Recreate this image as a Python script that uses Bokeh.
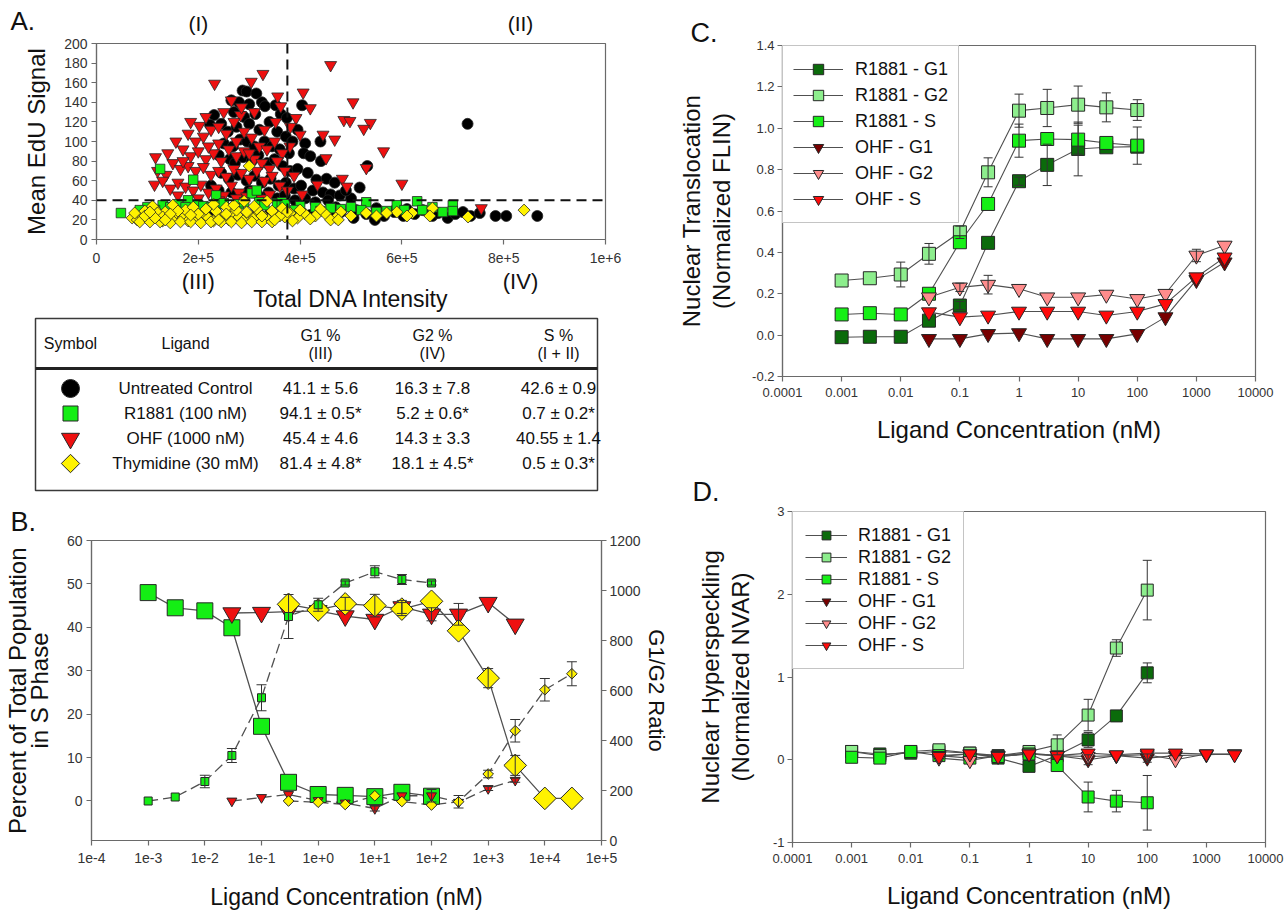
import math
from bokeh.plotting import figure
from bokeh.models import (ColumnDataSource, Range1d, LinearAxis, FixedTicker, Title,
                          CustomJSTickFormatter, PrintfTickFormatter, Span,
                          Whisker, TeeHead, Legend, LegendItem)
from bokeh.layouts import row, column
from bokeh.embed import file_html
from bokeh.resources import INLINE
from bokeh.core.properties import value

FONT = "Liberation Sans"

# ---------------- Panel A data (Total DNA intensity in thousands, mean EdU) ----------------
a_ctrl_pts = [(287,152),(295,151),(314,149),(265,142),(280,140),(300,138),(325,140),(331,136),(352,137),
    (362,128),(374,124),(404,137),(312,128),(290,125),(270,130),(231,127),(223,117),(245,118),(258,110),
    (275,115),(300,118),(320,112),(340,120),(355,110),(372,105),(385,100),(395,112),(410,98),(440,100),
    (250,98),(268,95),(282,102),(296,100),(310,95),(330,100),(345,95),(360,92),(378,88),(407,88),(420,85),
    (441,80),(240,86),(262,82),(272,78),(288,84),(305,80),(318,86),(335,78),(350,82),(365,75),(380,70),
    (395,72),(415,68),(432,61),(452,62),(468,58),(245,68),(260,62),(278,66),(295,60),(310,65),(325,58),
    (342,62),(358,55),(372,58),(388,52),(402,55),(425,50),(445,48),(460,46),(478,45),(500,42),(517,53),
    (532,75),(225,55),(240,50),(265,48),(285,45),(300,50),(320,44),(338,48),(355,42),(370,45),(390,40),
    (410,42),(430,38),(455,40),(490,50),(729,118),
    (100,24),(140,26),(180,25),(220,24),(260,27),(300,24),(340,26),(380,24),(420,25),(460,24),(480,28),
    (505,22),(530,26),(547,20),(565,24),(585,28),(603,24),(625,26),(641,30),(660,24),(671,27),(690,22),
    (705,26),(720,28),(735,24),(753,27),(784,24),(805,24),(866,24),(510,30),(550,32),(470,33),(590,32),(610,31)]
a_ohf_pts = [(460,178),(327,169),(304,161),(232,159),(406,150),(504,140),(356,146),(420,134),(362,136),
    (538,119),(525,113),(486,122),(498,121),(392,124),(381,115),(352,120),(265,142),(283,127),(202,116),
    (156,100),(116,84),(114,56),(137,66),(400,107),(445,107),(468,102),(451,83),(564,90),(483,62),(530,73),
    (492,54),(600,57),(434,56),(404,46),(756,32),
    (180,108),(195,100),(210,105),(225,112),(240,98),(255,108),(270,120),(290,110),(305,104),(320,95),
    (335,92),(350,100),(365,88),(380,95),(170,92),(185,85),(200,90),(215,82),(230,88),(245,80),(260,92),
    (275,85),(290,90),(310,82),(325,78),(340,72),(355,80),(370,70),(388,65),(150,78),(165,72),(180,75),
    (195,70),(210,74),(225,66),(240,70),(255,64),(270,72),(285,68),(300,62),(315,70),(330,60),(345,65),
    (360,55),(375,50),(130,60),(145,52),(160,58),(175,54),(190,50),(205,56),(220,48),(235,52),(250,45),
    (265,55),(280,48),(295,44),(310,50),(325,42),(340,46),(160,45),(200,42),(240,40),(275,42),(120,70),
    (140,88),(185,120),(215,125),(250,130),(275,100),(300,88),(330,112),(310,130),(285,135),(240,115),
    (170,80),(220,95)]
a_r1881_pts = [(48,27),(125,72),(190,61),(235,45),(305,47),(315,50),(180,40),(355,37),(364,38),(630,39),
    (530,38),(500,33),(550,28),(700,35),(700,29),(660,33),(590,35),(605,30),(320,38),(280,36),(240,36),
    (200,35),(160,36),(130,35),(100,33),(85,30),(115,30),(145,33),(175,33),(210,34),(250,37),(290,38),
    (330,35),(370,36),(400,34),(430,33),(460,32),(480,31),(520,30),(570,29),(640,30),(680,28),(440,29),
    (390,30),(270,32),(225,33)]
a_thy_pts = [(300,75),(660,32),(840,30),(730,23),(655,24),(620,27),(610,24),(590,28),(570,27),(550,24),
    (530,27),(500,24),(480,28),(470,22),(450,26),(430,24),(410,26),(395,22),(380,27),(370,23),(335,39),
    (290,39),(260,31),(70,22),(80,20),(90,24),(100,21),(110,25),(120,22),(130,19),(140,24),(150,21),
    (160,26),(170,22),(180,19),(190,24),(200,21),(210,27),(220,22),(230,19),(240,25),(250,22),(260,20),
    (270,26),(280,23),(290,20),(300,25),(310,22),(320,27),(330,23),(340,21),(350,26),(360,24),(75,27),
    (95,29),(115,31),(135,28),(155,32),(175,30),(195,28),(215,31),(235,29),(255,33),(275,30),(295,28),
    (315,31),(345,29),(365,32),(85,18),(105,18),(125,18),(145,17),(165,18),(185,18),(205,17),(225,18),
    (245,18),(265,18),(285,17),(305,18),(325,18),(345,18),(110,34),(150,35),(190,33),(230,36),(270,35),
    (310,34),(240,20),(200,26),(160,29),(120,27),(350,20),(385,19),(420,21),(460,20),(400,30),(440,31),
    (475,20),(130,23),(145,26),(185,25),(255,26),(325,24),(375,28),(95,24),(115,22),(105,28),(135,20)]
a_xticks = [0, 200000, 400000, 600000, 800000, 1000000]
a_xtick_labels = ["0", "2e+5", "4e+5", "6e+5", "8e+5", "1e+6"]
a_yticks = [0, 20, 40, 60, 80, 100, 120, 140, 160, 180, 200]
a_edu_threshold = 40
a_dna_threshold = 375000
a_region_top = ["(I)", "(II)"]
a_region_bottom = ["(III)", "(IV)"]
a_region_x = [200000, 833000]

# ---------------- Table data ----------------
table_headers = [("Symbol", ""), ("Ligand", ""), ("G1 %", "(III)"), ("G2 %", "(IV)"), ("S %", "(I + II)")]
table_ligands = ["Untreated Control", "R1881 (100 nM)", "OHF (1000 nM)", "Thymidine (30 mM)"]
table_g1 = ["41.1 ± 5.6", "94.1 ± 0.5*", "45.4 ± 4.6", "81.4 ± 4.8*"]
table_g2 = ["16.3 ± 7.8", "5.2 ± 0.6*", "14.3 ± 3.3", "18.1 ± 4.5*"]
table_s = ["42.6 ± 0.9", "0.7 ± 0.2*", "40.55 ± 1.4", "0.5 ± 0.3*"]

# ---------------- Panel B data ----------------
b_x_r1881 = [0.001, 0.003, 0.01, 0.03, 0.1, 0.3, 1, 3, 10, 30, 100]
b_s_r1881 = [48.0, 44.5, 43.8, 39.9, 17.2, 4.3, 1.5, 1.3, 1.0, 2.0, 1.1]
b_ratio_r1881 = [158, 174, 236, 340, 571, 896, 943, 1030, 1075, 1044, 1030]
b_ratio_r1881_err = [0, 0, 25, 28, 52, 88, 26, 8, 24, 20, 8]
b_x_ohf = [0.03, 0.1, 0.3, 1, 3, 10, 30, 100, 300, 1000, 3000]
b_s_ohf = [43.3, 43.4, 43.6, 43.8, 42.6, 41.8, 44.7, 43.0, 43.0, 45.7, 40.7]
b_s_ohf_err = [0, 0, 0, 0, 0, 0, 1.5, 1.5, 2.5, 0, 0]
b_ratio_ohf = [158, 172, 184, 160, 150, 128, 179, 179, 153, 208, 241]
b_ratio_ohf_err = [0, 0, 0, 0, 0, 10, 0, 25, 0, 8, 8]
b_x_thy = [0.3, 1, 3, 10, 30, 100, 300, 1000, 3000, 10000, 30000]
b_s_thy = [45.3, 44.0, 45.4, 45.0, 44.2, 46.0, 39.2, 28.3, 8.2, 0.6, 0.6]
b_s_thy_err = [0, 0, 1.5, 2.6, 1.5, 0, 0, 2.2, 2.3, 0, 0]
b_ratio_thy = [158, 153, 144, 179, 156, 142, 155, 266, 439, 603, 667]
b_ratio_thy_err = [0, 0, 0, 0, 0, 0, 25, 15, 45, 45, 48]
b_xticks = [1e-4, 1e-3, 1e-2, 1e-1, 1, 10, 100, 1000, 10000, 100000]
b_xtick_labels = ["1e-4", "1e-3", "1e-2", "1e-1", "1e+0", "1e+1", "1e+2", "1e+3", "1e+4", "1e+5"]
b_yticks = [0, 10, 20, 30, 40, 50, 60]
b_ratio_ticks = [0, 200, 400, 600, 800, 1000, 1200]

# ---------------- Panels C / D data ----------------
cd_series = ["R1881 - G1", "R1881 - G2", "R1881 - S", "OHF - G1", "OHF - G2", "OHF - S"]
cd_x_r1881 = [0.001, 0.003, 0.01, 0.03, 0.1, 0.3, 1, 3, 10, 30, 100]
cd_x_ohf = [0.03, 0.1, 0.3, 1, 3, 10, 30, 100, 300, 1000, 3000]
c_vals = [
    [-0.01, -0.008, -0.008, 0.07, 0.143, 0.446, 0.744, 0.823, 0.90, 0.908, 0.911],
    [0.264, 0.275, 0.293, 0.393, 0.497, 0.787, 1.085, 1.098, 1.114, 1.101, 1.088],
    [0.100, 0.106, 0.100, 0.200, 0.449, 0.634, 0.940, 0.948, 0.945, 0.929, 0.916],
    [-0.018, -0.018, 0.006, 0.010, -0.018, -0.018, -0.018, 0.006, 0.087, 0.267, 0.352],
    [0.183, 0.231, 0.244, 0.224, 0.183, 0.183, 0.196, 0.175, 0.200, 0.385, 0.433],
    [0.111, 0.087, 0.095, 0.114, 0.114, 0.114, 0.095, 0.114, 0.151, 0.280, 0.376],
]
c_errs = [
    [0, 0, 0, 0, 0.02, 0, 0.02, 0.10, 0.13, 0, 0],
    [0, 0, 0.06, 0.05, 0.03, 0.07, 0.08, 0.09, 0.09, 0.07, 0.05],
    [0, 0, 0, 0, 0, 0, 0.08, 0, 0.07, 0, 0.09],
    [0, 0, 0, 0, 0, 0, 0, 0, 0, 0, 0],
    [0, 0.02, 0.045, 0, 0, 0, 0, 0, 0, 0.03, 0],
    [0, 0, 0, 0, 0, 0, 0, 0, 0, 0, 0],
]
d_vals = [
    [0.10, 0.07, 0.08, 0.10, 0.08, 0.02, -0.08, 0.05, 0.24, 0.53, 1.05],
    [0.10, 0.05, 0.10, 0.12, 0.08, 0.05, 0.10, 0.18, 0.54, 1.35, 2.05],
    [0.03, 0.02, 0.10, 0.05, 0.02, 0.04, 0.07, -0.07, -0.45, -0.50, -0.52],
    [0.05, 0.07, 0.05, 0.07, 0.05, 0.00, 0.05, 0.02, 0.05, 0.06, 0.07],
    [0.02, -0.01, 0.05, 0.08, 0.05, 0.04, 0.05, 0.06, 0.00, 0.07, 0.07],
    [0.04, 0.07, 0.04, 0.07, 0.05, 0.08, 0.06, 0.08, 0.08, 0.07, 0.06],
]
d_errs = [
    [0, 0, 0, 0, 0, 0, 0, 0, 0.09, 0, 0.12],
    [0, 0, 0, 0, 0, 0, 0, 0.12, 0.19, 0.10, 0.36],
    [0, 0, 0, 0, 0, 0, 0, 0, 0.18, 0.13, 0.33],
    [0, 0, 0, 0, 0, 0.06, 0, 0.05, 0, 0, 0],
    [0, 0, 0, 0, 0, 0, 0, 0, 0, 0, 0],
    [0, 0, 0, 0, 0, 0, 0, 0, 0, 0, 0],
]
cd_xticks = [1e-4, 1e-3, 1e-2, 1e-1, 1, 10, 100, 1000, 10000]
cd_xtick_labels = ["0.0001", "0.001", "0.01", "0.1", "1", "10", "100", "1000", "10000"]
c_yticks = [-0.2, 0.0, 0.2, 0.4, 0.6, 0.8, 1.0, 1.2, 1.4]
d_yticks = [-1, 0, 1, 2, 3]

# ---------------- styling ----------------
AX = "#6a6a6a"
LINE = "#505050"
EDGE = "#262626"
GREEN = "#14EE14"
RED = "#EE1010"
YELLOW = "#FFF200"
cd_colors = ["#0B6B0B", "#8DEE8D", "#16F016", "#780000", "#FF8C8C", "#FF0A0A"]
cd_markers = ["square", "square", "square", "inverted_triangle", "inverted_triangle", "inverted_triangle"]
LOOKUP = ("const i = tv.findIndex(t => Math.abs(t - tick) <= 1e-6 * Math.abs(t) + 1e-12);"
          "return i >= 0 ? tl[i] : '';")
LW, RW = 672, 616   # column widths


def style(p, tick_font="13px"):
    for ax in p.axis:
        ax.axis_line_color = AX
        ax.axis_line_width = 1.2
        ax.major_tick_line_color = AX
        ax.major_tick_line_width = 1.2
        ax.minor_tick_line_color = None
        ax.major_tick_out = 5
        ax.major_tick_in = 0
        ax.major_label_text_font = FONT
        ax.major_label_text_font_size = tick_font
        ax.major_label_text_color = "#333333"
        ax.axis_label_text_font = FONT
        ax.axis_label_text_font_style = "normal"
        ax.axis_label_text_color = "#111111"
    p.grid.visible = False
    p.outline_line_color = AX
    p.outline_line_width = 1.2


def panel_letter(p, text, offset, standoff):
    p.add_layout(Title(text=text, align="left", offset=offset, standoff=standoff,
                       text_font=FONT, text_font_size="27px", text_font_style="normal",
                       text_color="#111111"), "above")


def text_strip(width, height):
    s = figure(width=width, height=height, x_range=Range1d(0, width), y_range=Range1d(height, 0),
               x_axis_location=None, y_axis_location=None, output_backend="svg",
               toolbar_location=None, title=None, min_border=0, outline_line_color=None,
               frame_align=False)
    s.grid.visible = False
    return s


def strip_text(s, xs, ys, texts, size, align="center"):
    s.text(x=xs, y=ys, text=texts, text_font=value(FONT), text_font_size=value(size),
           text_align=align, text_baseline="middle", text_color="#111111")


def add_err(p, xs, ys, es, range_name="default", head=8):
    pts = [(x, y - e, y + e) for x, y, e in zip(xs, ys, es) if e > 0]
    if not pts:
        return
    src = ColumnDataSource(dict(x=[t[0] for t in pts], lo=[t[1] for t in pts], hi=[t[2] for t in pts]))
    p.add_layout(Whisker(source=src, base="x", lower="lo", upper="hi", line_color="#333333",
                         line_width=1, y_range_name=range_name, level="glyph",
                         upper_head=TeeHead(size=head, line_color="#333333", line_width=1),
                         lower_head=TeeHead(size=head, line_color="#333333", line_width=1)))


# ======================= Panel A =======================
A_L, A_R, A_T, A_B, A_H = 96, 67, 8, 74, 279
a_fw = LW - A_L - A_R
pA = figure(width=LW, height=A_H, x_range=Range1d(0, 1e6), y_range=Range1d(0, 200),
            output_backend="svg", toolbar_location=None, title=None, frame_align=False,
            min_border_left=A_L, min_border_right=A_R, min_border_top=A_T, min_border_bottom=A_B)
for pts, marker, size, fill, ang in [
        (a_ctrl_pts, "circle", 11, "#000000", 0),
        (a_ohf_pts, "inverted_triangle", 12, RED, 0),
        (a_r1881_pts, "square", 9.5, GREEN, 0),
        (a_thy_pts, "square", 8.5, YELLOW, math.pi / 4)]:
    pA.scatter([x * 1000 for x, _ in pts], [y for _, y in pts], marker=marker, size=size,
               angle=ang, fill_color=fill, line_color=EDGE, line_width=0.8)
pA.add_layout(Span(location=a_dna_threshold, dimension="height", line_color="#111111",
                   line_width=2, line_dash="10 6"))
pA.add_layout(Span(location=a_edu_threshold, dimension="width", line_color="#111111",
                   line_width=2, line_dash="10 6"))
pA.xaxis.ticker = FixedTicker(ticks=a_xticks)
pA.xaxis.formatter = CustomJSTickFormatter(args=dict(tv=a_xticks, tl=a_xtick_labels), code=LOOKUP)
pA.yaxis.ticker = FixedTicker(ticks=a_yticks)
pA.yaxis.axis_label = "Mean EdU Signal"
region_axis = LinearAxis(ticker=FixedTicker(ticks=a_region_x),
                         formatter=CustomJSTickFormatter(args=dict(tv=a_region_x, tl=a_region_bottom),
                                                         code=LOOKUP),
                         axis_label="Total DNA Intensity")
pA.add_layout(region_axis, "below")
style(pA, "14px")
region_axis.axis_line_color = None
region_axis.major_tick_line_color = None
region_axis.major_tick_out = 0
region_axis.major_label_text_font_size = "22px"
region_axis.major_label_text_color = "#111111"
region_axis.major_label_standoff = 3
region_axis.axis_label_text_font_size = "23px"
region_axis.axis_label_standoff = -11
pA.yaxis.axis_label_text_font_size = "24px"
pA.yaxis.major_label_standoff = 4
pA.yaxis.axis_label_standoff = 11
pA.xaxis[0].major_label_standoff = 8

stripA = text_strip(LW, 35)
strip_text(stripA, [10], [20], ["A."], "26px", "left")
strip_text(stripA, [A_L + v / 1e6 * a_fw for v in a_region_x], [22.5, 22.5], a_region_top, "21px")

# ======================= Table =======================
T_W, T_H = LW, 182
pT = text_strip(T_W, T_H)
pT.quad(left=[35], right=[597], top=[4], bottom=[176], fill_color=None, line_color="#3a3a3a", line_width=1.5)
pT.segment(x0=[35], y0=[54], x1=[597], y1=[54], line_color="#222222", line_width=3)
col_x = [70, 185, 320, 432, 558]
row_y = [74, 99, 124, 149]
hx, hy, ht = [], [], []
for cx, (h1, h2) in zip(col_x, table_headers):
    if h2:
        hx += [cx, cx]
        hy += [21, 39]
        ht += [h1, h2]
    else:
        hx.append(cx)
        hy.append(29)
        ht.append(h1)
strip_text(pT, hx, hy, ht, "16px")
bx_, by_, bt_ = [], [], []
for ci, col in enumerate([table_ligands, table_g1, table_g2, table_s]):
    for ri, txt in enumerate(col):
        bx_.append(col_x[ci + 1])
        by_.append(row_y[ri])
        bt_.append(txt)
strip_text(pT, bx_, by_, bt_, "17px")
pT.scatter(x=[col_x[0]] * 4, y=row_y,
           marker=["circle", "square", "inverted_triangle", "square"],
           size=[18, 15, 18, 13], angle=[0, 0, 0, math.pi / 4],
           fill_color=["#000000", GREEN, RED, YELLOW], line_color=EDGE, line_width=1)

# ======================= Panel B =======================
B_L, B_R, B_T, B_B, B_H = 91, 71, 44, 74, 418
pB = figure(width=LW, height=B_H, x_axis_type="log", x_range=Range1d(1e-4, 1e5),
            y_range=Range1d(-9.1, 60), output_backend="svg", toolbar_location=None, title=None,
            frame_align=False,
            min_border_left=B_L, min_border_right=B_R, min_border_top=B_T, min_border_bottom=B_B)
pB.extra_y_ranges = {"ratio": Range1d(0, 1200)}
rax = LinearAxis(y_range_name="ratio", axis_label="G1/G2 Ratio", ticker=FixedTicker(ticks=b_ratio_ticks))
pB.add_layout(rax, "right")
pB.line(b_x_r1881, b_s_r1881, line_color=LINE, line_width=1.3)
pB.line(b_x_ohf, b_s_ohf, line_color=LINE, line_width=1.3)
pB.line(b_x_thy, b_s_thy, line_color=LINE, line_width=1.3)
pB.line(b_x_r1881, b_ratio_r1881, y_range_name="ratio", line_color=LINE, line_width=1.3, line_dash="10 5")
pB.line(b_x_ohf, b_ratio_ohf, y_range_name="ratio", line_color=LINE, line_width=1.3, line_dash="10 5")
pB.line(b_x_thy, b_ratio_thy, y_range_name="ratio", line_color=LINE, line_width=1.3, line_dash="10 5")
add_err(pB, b_x_ohf, b_s_ohf, b_s_ohf_err, head=10)
add_err(pB, b_x_thy, b_s_thy, b_s_thy_err, head=10)
pB.scatter(b_x_r1881, b_s_r1881, marker="square", size=16, fill_color=GREEN, line_color=EDGE)
pB.scatter(b_x_ohf, b_s_ohf, marker="inverted_triangle", size=18, fill_color=RED, line_color=EDGE)
pB.scatter(b_x_thy, b_s_thy, marker="square", size=16, angle=math.pi / 4, fill_color=YELLOW, line_color=EDGE)
add_err(pB, b_x_r1881, b_ratio_r1881, b_ratio_r1881_err, "ratio", head=10)
add_err(pB, b_x_ohf, b_ratio_ohf, b_ratio_ohf_err, "ratio", head=10)
add_err(pB, b_x_thy, b_ratio_thy, b_ratio_thy_err, "ratio", head=10)
pB.scatter(b_x_r1881, b_ratio_r1881, y_range_name="ratio", marker="square", size=8,
           fill_color=GREEN, line_color=EDGE)
pB.scatter(b_x_ohf, b_ratio_ohf, y_range_name="ratio", marker="inverted_triangle", size=10,
           fill_color=RED, line_color=EDGE)
pB.scatter(b_x_thy, b_ratio_thy, y_range_name="ratio", marker="square", size=7.5, angle=math.pi / 4,
           fill_color=YELLOW, line_color=EDGE)
pB.xaxis.ticker = FixedTicker(ticks=b_xticks)
pB.xaxis.formatter = CustomJSTickFormatter(args=dict(tv=b_xticks, tl=b_xtick_labels), code=LOOKUP)
pB.yaxis[0].ticker = FixedTicker(ticks=b_yticks)
pB.xaxis.axis_label = "Ligand Concentration (nM)"
pB.yaxis[0].axis_label = "Percent of Total Population\nin S Phase"
style(pB, "14px")
pB.xaxis.axis_label_text_font_size = "23px"
pB.xaxis.major_label_standoff = 7
pB.xaxis.axis_label_standoff = 18
pB.yaxis[0].axis_label_text_font_size = "24px"
pB.yaxis[0].axis_label_text_line_height = 0.8
pB.yaxis[0].major_label_standoff = 4
pB.yaxis[0].axis_label_standoff = 11
rax.axis_label_text_font_size = "22px"
rax.major_label_standoff = 3
rax.axis_label_standoff = 0
panel_letter(pB, "B.", -(B_L - 10), 7)


# ======================= Panels C and D =======================
def dose_panel(height, left, right, top, bottom, yr, yticks, yfmt, ylabel, vals, errs,
               sq, tri, leg_glyph_w, leg_glyph_h, leg_pad, leg_std, ylab_std, xt_std, xl_std):
    p = figure(width=RW, height=height, x_axis_type="log", x_range=Range1d(1e-4, 1e4),
               y_range=Range1d(*yr), output_backend="svg", toolbar_location=None, title=None,
               frame_align=False,
               min_border_left=left, min_border_right=right, min_border_top=top,
               min_border_bottom=bottom)
    lines, marks = [], []
    for i in range(6):
        xs = cd_x_r1881 if i < 3 else cd_x_ohf
        lines.append(p.line(xs, vals[i], line_color=LINE, line_width=1.1))
    for i in range(6):
        xs = cd_x_r1881 if i < 3 else cd_x_ohf
        add_err(p, xs, vals[i], errs[i], head=9)
    for i in range(6):
        xs = cd_x_r1881 if i < 3 else cd_x_ohf
        marks.append(p.scatter(xs, vals[i], marker=cd_markers[i], size=sq if i < 3 else tri,
                               fill_color=cd_colors[i], line_color=EDGE, line_width=1))
    items = [LegendItem(label=cd_series[i], renderers=[lines[i], marks[i]]) for i in range(6)]
    leg = Legend(items=items, location="top_left", margin=0, padding=leg_pad, spacing=0,
                 glyph_width=leg_glyph_w, glyph_height=leg_glyph_h, label_height=leg_glyph_h,
                 label_standoff=leg_std, label_text_font=FONT, label_text_font_size="18px",
                 label_text_color="#111111", border_line_color="#8a8a8a", border_line_width=1,
                 background_fill_color="white", background_fill_alpha=1.0)
    p.add_layout(leg)
    p.xaxis.ticker = FixedTicker(ticks=cd_xticks)
    p.xaxis.formatter = CustomJSTickFormatter(args=dict(tv=cd_xticks, tl=cd_xtick_labels), code=LOOKUP)
    p.yaxis.ticker = FixedTicker(ticks=yticks)
    p.yaxis.formatter = PrintfTickFormatter(format=yfmt)
    p.xaxis.axis_label = "Ligand Concentration (nM)"
    p.yaxis.axis_label = ylabel
    style(p, "13px")
    p.xaxis.axis_label_text_font_size = "24px"
    p.yaxis.axis_label_text_font_size = "24px"
    p.yaxis.axis_label_text_line_height = 1.12
    p.yaxis.major_label_standoff = 3
    p.yaxis.axis_label_standoff = ylab_std
    p.xaxis.major_label_standoff = xt_std
    p.xaxis.axis_label_standoff = xl_std
    return p


C_L, C_R = 110, 33
pC = dose_panel(450, C_L, C_R, 45, 74, (-0.2, 1.4), c_yticks, "%.1f",
                "Nuclear Translocation\n(Normalized FLIN)", c_vals, c_errs,
                13, 15, 50, 26, 10, 12, 14, 6, 16)
panel_letter(pC, "C.", -(C_L + LW - 690), -4)
D_L, D_R = 120, 23
pD = dose_panel(464, D_L, D_R, 61, 72, (-1, 3), d_yticks, "%d",
                "Nuclear Hyperspeckling\n(Normalized NVAR)", d_vals, d_errs,
                12, 14, 42, 22, 12, 11, 16, 6, 16)
panel_letter(pD, "D.", -(D_L + LW - 692), 9)

layout = row(column(stripA, pA, pT, pB), column(pC, pD))
open("out.html", "w").write(file_html(layout, INLINE))
